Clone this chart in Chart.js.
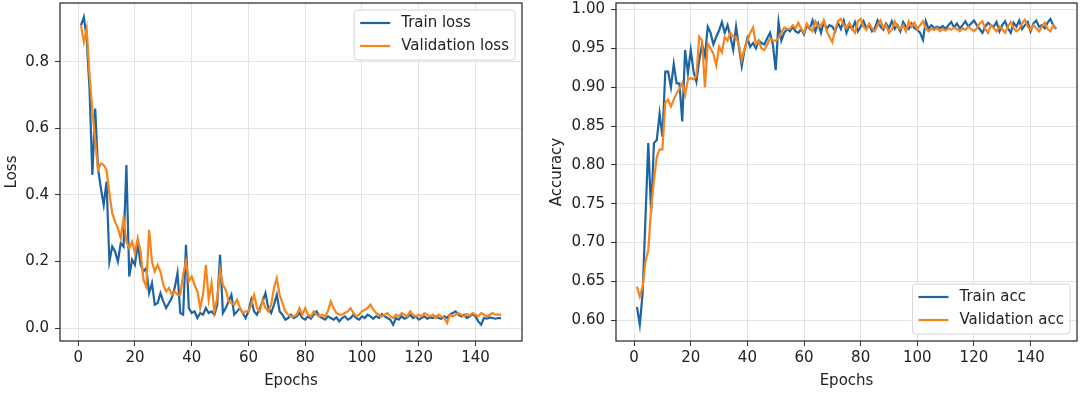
<!DOCTYPE html>
<html>
<head>
<meta charset="utf-8">
<script src="https://cdn.jsdelivr.net/npm/chart.js@4.4.1/dist/chart.umd.min.js"></script>
<style>
  html, body { margin: 0; padding: 0; background: #fff; }
  #wrap { position: relative; width: 1080px; height: 397px; }
  .panel { position: absolute; top: 0; width: 540px; height: 397px; }
</style>
</head>
<body>
<div id="wrap">
  <div class="panel" style="left:0"><canvas id="lossChart" width="540" height="397"></canvas></div>
  <div class="panel" style="left:540px"><canvas id="accChart" width="540" height="397"></canvas></div>
</div>
<script>
// values, epochs 1..149
const trainLoss = [
  0.91, 0.935, 0.87, 0.72, 0.46, 0.66, 0.48, 0.42, 0.37, 0.44,
  0.20, 0.245, 0.23, 0.20, 0.255, 0.245, 0.49, 0.155, 0.205, 0.19,
  0.255, 0.19, 0.17, 0.18, 0.105, 0.135, 0.07, 0.075, 0.105, 0.08,
  0.06, 0.075, 0.09, 0.12, 0.165, 0.045, 0.04, 0.25, 0.06, 0.045,
  0.05, 0.03, 0.045, 0.04, 0.06, 0.045, 0.05, 0.04, 0.07, 0.22,
  0.045, 0.06, 0.08, 0.10, 0.04, 0.05, 0.06, 0.045, 0.03, 0.05,
  0.085, 0.05, 0.04, 0.06, 0.08, 0.105, 0.06, 0.045, 0.07, 0.10,
  0.05, 0.04, 0.025, 0.03, 0.04, 0.03, 0.035, 0.045, 0.03, 0.025,
  0.035, 0.028, 0.04, 0.05, 0.035, 0.03, 0.025, 0.035, 0.03, 0.025,
  0.032, 0.02, 0.03, 0.035, 0.025, 0.03, 0.04, 0.03, 0.025, 0.035,
  0.03, 0.04, 0.035, 0.028, 0.036, 0.03, 0.042, 0.035, 0.03, 0.025,
  0.01, 0.03, 0.025, 0.035, 0.028, 0.032, 0.04, 0.03, 0.035, 0.025,
  0.03, 0.035, 0.028, 0.032, 0.03, 0.035, 0.03, 0.028, 0.035, 0.03,
  0.04, 0.045, 0.05, 0.04, 0.035, 0.04, 0.03, 0.035, 0.042, 0.035,
  0.02, 0.01, 0.03, 0.028, 0.032, 0.03, 0.028, 0.03, 0.03
];
const valLoss = [
  0.91, 0.86, 0.90, 0.76, 0.655, 0.565, 0.475, 0.495, 0.49, 0.475,
  0.405, 0.345, 0.32, 0.30, 0.27, 0.33, 0.26, 0.24, 0.26, 0.225,
  0.27, 0.23, 0.145, 0.125, 0.295, 0.20, 0.17, 0.19, 0.17, 0.13,
  0.11, 0.12, 0.10, 0.11, 0.10, 0.10, 0.16, 0.20, 0.14, 0.155,
  0.13, 0.11, 0.06, 0.10, 0.19, 0.085, 0.135, 0.05, 0.09, 0.175,
  0.13, 0.115, 0.08, 0.075, 0.07, 0.085, 0.06, 0.045, 0.05, 0.05,
  0.07, 0.10, 0.06, 0.05, 0.085, 0.06, 0.05, 0.07, 0.12, 0.15,
  0.10, 0.075, 0.05, 0.04, 0.035, 0.035, 0.04, 0.06, 0.04, 0.06,
  0.04, 0.035, 0.05, 0.04, 0.035, 0.04, 0.035, 0.05, 0.08, 0.06,
  0.045, 0.04, 0.04, 0.045, 0.05, 0.06, 0.045, 0.035, 0.04, 0.05,
  0.055, 0.06, 0.07, 0.055, 0.045, 0.04, 0.035, 0.04, 0.045, 0.035,
  0.03, 0.04, 0.035, 0.045, 0.04, 0.035, 0.05, 0.04, 0.035, 0.04,
  0.035, 0.045, 0.04, 0.035, 0.04, 0.03, 0.04, 0.035, 0.03, 0.015,
  0.04, 0.035, 0.04, 0.045, 0.04, 0.035, 0.042, 0.038, 0.045, 0.04,
  0.035, 0.045, 0.04, 0.035, 0.04, 0.045, 0.04, 0.04, 0.04
];
const trainAcc = [
  0.617, 0.594, 0.634, 0.73, 0.828, 0.738, 0.828, 0.832, 0.866, 0.836,
  0.92, 0.92, 0.90, 0.93, 0.905, 0.905, 0.856, 0.948, 0.918, 0.948,
  0.92, 0.907, 0.935, 0.955, 0.94, 0.978, 0.97, 0.955, 0.965, 0.973,
  0.984, 0.97, 0.98, 0.965, 0.948, 0.978, 0.952, 0.927, 0.948, 0.963,
  0.952, 0.957, 0.95, 0.96, 0.957, 0.955, 0.963, 0.97, 0.955, 0.922,
  0.984, 0.96, 0.97, 0.975, 0.972, 0.978, 0.972, 0.97, 0.975, 0.968,
  0.98, 0.975, 0.986, 0.972, 0.982, 0.97, 0.985, 0.975, 0.98, 0.978,
  0.972, 0.983, 0.975, 0.986, 0.97, 0.98, 0.975, 0.984, 0.972, 0.978,
  0.985, 0.976, 0.98, 0.972, 0.976, 0.986, 0.978, 0.974, 0.982, 0.976,
  0.985, 0.975, 0.98, 0.972, 0.984, 0.978, 0.975, 0.982, 0.976, 0.974,
  0.97, 0.961, 0.985, 0.975, 0.98, 0.976, 0.978, 0.976, 0.979, 0.975,
  0.98, 0.984, 0.977, 0.982, 0.976, 0.98, 0.985, 0.978, 0.982, 0.986,
  0.98, 0.975, 0.97, 0.978, 0.983, 0.98, 0.978, 0.984, 0.972, 0.98,
  0.985, 0.976, 0.97, 0.983, 0.978, 0.986, 0.975, 0.98, 0.984, 0.972,
  0.982, 0.986, 0.978, 0.98, 0.976, 0.983, 0.988, 0.98, 0.975
];
const valAcc = [
  0.643, 0.63, 0.643, 0.675, 0.69, 0.743, 0.78, 0.81, 0.82, 0.82,
  0.88, 0.884, 0.875, 0.884, 0.892, 0.898, 0.905, 0.89, 0.91, 0.912,
  0.91, 0.915, 0.965, 0.96, 0.90, 0.956, 0.95, 0.943, 0.928, 0.952,
  0.945, 0.965, 0.96, 0.97, 0.965, 0.965, 0.955, 0.935, 0.95, 0.96,
  0.97, 0.977, 0.955, 0.96, 0.95, 0.948, 0.955, 0.963, 0.96, 0.96,
  0.963, 0.97, 0.977, 0.975, 0.975, 0.98, 0.976, 0.983, 0.975, 0.97,
  0.982, 0.976, 0.972, 0.985, 0.978, 0.98, 0.986, 0.972, 0.965, 0.958,
  0.975, 0.985, 0.988, 0.98, 0.976, 0.983, 0.975, 0.97, 0.985, 0.988,
  0.978, 0.974, 0.982, 0.976, 0.972, 0.98, 0.986, 0.976, 0.98, 0.97,
  0.974, 0.985, 0.978, 0.975, 0.98, 0.972, 0.985, 0.978, 0.983, 0.975,
  0.98, 0.985, 0.976, 0.972, 0.975, 0.974, 0.976, 0.972, 0.975, 0.973,
  0.976, 0.974, 0.977, 0.975, 0.972, 0.976, 0.974, 0.978, 0.975, 0.972,
  0.976, 0.982, 0.985, 0.975, 0.97, 0.98, 0.976, 0.972, 0.978, 0.975,
  0.97, 0.978, 0.984, 0.976, 0.972, 0.975, 0.982, 0.987, 0.978, 0.974,
  0.98, 0.976, 0.972, 0.978, 0.983, 0.975, 0.972, 0.98, 0.976
];
const epochs = trainLoss.map((_, i) => i + 1);

const epochTicks = [0, 20, 40, 60, 80, 100, 120, 140];
const lossTicks = [0.0, 0.2, 0.4, 0.6, 0.8];
const accTicks = [0.60, 0.65, 0.70, 0.75, 0.80, 0.85, 0.90, 0.95, 1.00];

const BLUE = '#1d64a3';
const ORANGE = '#f5851c';
const FONT = 'DejaVu Sans';

Chart.defaults.font.family = FONT;
Chart.defaults.font.size = 15;
Chart.defaults.color = '#222';

// full box around the plot area, like the matplotlib frame
const framePlugin = {
  id: 'frame',
  afterDraw(chart) {
    const {ctx, chartArea: a} = chart;
    ctx.save();
    ctx.strokeStyle = '#333';
    ctx.lineWidth = 1.3;
    ctx.strokeRect(a.left, a.top, a.right - a.left, a.bottom - a.top);
    ctx.restore();
  }
};

// legend box placed inside the plot area
const boxLegend = {
  id: 'boxLegend',
  afterDatasetsDraw(chart, args, opts) {
    const {ctx, chartArea: a} = chart;
    const sets = chart.data.datasets.slice().sort((p, q) => p.legendIndex - q.legendIndex);
    ctx.save();
    ctx.font = '15px "' + FONT + '"';
    const textW = Math.max(...sets.map(d => ctx.measureText(d.label).width));
    const pad = 6, handle = 30, gap = 11, row = 23;
    const w = pad + handle + gap + textW + pad;
    const h = 13 + row * (sets.length - 1) + 14;
    const x = a.right - 7 - w;
    const y = opts.corner === 'top' ? a.top + 7 : a.bottom - 7 - h;

    ctx.beginPath();
    ctx.roundRect(x, y, w, h, 3);
    ctx.fillStyle = 'rgba(255,255,255,0.85)';
    ctx.fill();
    ctx.strokeStyle = '#d6d6d6';
    ctx.lineWidth = 1;
    ctx.stroke();

    sets.forEach((d, i) => {
      const cy = y + 13 + i * row;
      ctx.beginPath();
      ctx.moveTo(x + pad, cy);
      ctx.lineTo(x + pad + handle, cy);
      ctx.strokeStyle = d.borderColor;
      ctx.lineWidth = 2.2;
      ctx.stroke();
      ctx.fillStyle = '#222';
      ctx.textBaseline = 'middle';
      ctx.textAlign = 'left';
      ctx.fillText(d.label, x + pad + handle + gap, cy);
    });
    ctx.restore();
  }
};

function series(label, values, color, order, legendIndex) {
  return {
    label: label,
    data: values.map((v, i) => ({x: epochs[i], y: v})),
    borderColor: color,
    backgroundColor: color,
    borderWidth: 2.2,
    pointRadius: 0,
    tension: 0,
    order: order,
    legendIndex: legendIndex
  };
}

function makePanel(canvas, p) {
  return new Chart(canvas, {
    type: 'line',
    data: {
      datasets: [
        series(p.names[0], p.first, BLUE, 1, 0),
        series(p.names[1], p.second, ORANGE, 0, 1)
      ]
    },
    plugins: [framePlugin, boxLegend],
    options: {
      responsive: false,
      animation: false,
      layout: {padding: {left: 0, top: 3, right: p.rightPad, bottom: 0}},
      plugins: {
        legend: {display: false},
        tooltip: {enabled: false},
        boxLegend: {corner: p.corner}
      },
      scales: {
        x: {
          type: 'linear',
          min: -6.4,
          max: 156.4,
          afterBuildTicks: s => { s.ticks = epochTicks.map(v => ({value: v})); },
          afterFit: s => { s.height = 56; s.paddingLeft = 0; s.paddingRight = 0; },
          grid: {color: '#e3e3e3', tickColor: '#333', tickLength: 5, lineWidth: 1},
          border: {display: false},
          ticks: {padding: 3, maxRotation: 0, autoSkip: false, callback: v => String(v)},
          title: {display: true, text: 'Epochs', padding: {top: 0, bottom: 7}}
        },
        y: {
          min: p.yMin,
          max: p.yMax,
          afterBuildTicks: s => { s.ticks = p.yTicks.map(v => ({value: v})); },
          afterFit: s => { s.width = p.yWidth; s.paddingTop = 0; s.paddingBottom = 0; },
          grid: {color: '#e3e3e3', tickColor: '#333', tickLength: 5, lineWidth: 1},
          border: {display: false},
          ticks: {padding: 6, autoSkip: false, callback: v => Number(v).toFixed(p.digits)},
          title: {display: true, text: p.yTitle, padding: {top: p.titlePad, bottom: 0}}
        }
      }
    }
  });
}

makePanel(document.getElementById('lossChart'), {
  names: ['Train loss', 'Validation loss'],
  first: trainLoss, second: valLoss,
  yMin: -0.039, yMax: 0.977, yTicks: lossTicks, digits: 1,
  yTitle: 'Loss', titlePad: 3, yWidth: 60, rightPad: 18, corner: 'top'
});

makePanel(document.getElementById('accChart'), {
  names: ['Train acc', 'Validation acc'],
  first: trainAcc, second: valAcc,
  yMin: 0.573, yMax: 1.0085, yTicks: accTicks, digits: 2,
  yTitle: 'Accuracy', titlePad: 8, yWidth: 76, rightPad: 3, corner: 'bottom'
});
</script>
</body>
</html>
